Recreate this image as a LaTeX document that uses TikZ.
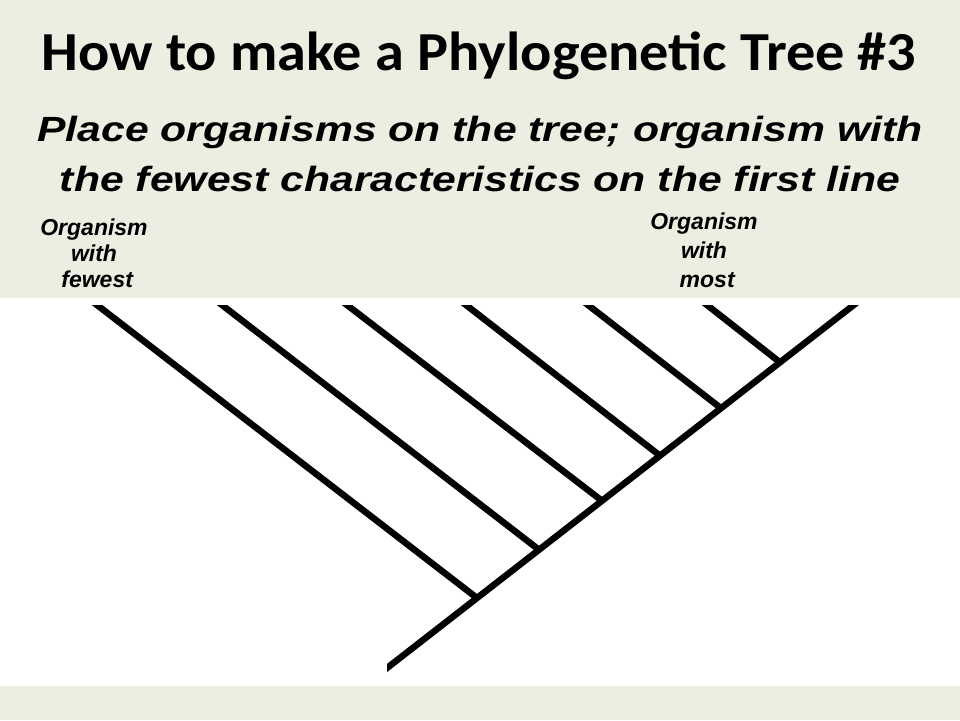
\documentclass[tikz,border=0pt]{standalone}
\usepackage{fontspec}
\usepackage{graphicx}
\usetikzlibrary{calc}
\newfontfamily\titlefont{Carlito}
\newfontfamily\armfont{Liberation Sans}
\definecolor{slidebg}{RGB}{235,238,224}

\begin{document}
\begin{tikzpicture}[x=1pt, y=-1pt,
    treeline/.style={line width=6.5pt, line cap=butt, black},
    subline/.style={font=\armfont\bfseries\itshape\fontsize{35}{40}\selectfont, inner sep=0pt, anchor=base},
    caption/.style={font=\armfont\bfseries\itshape\fontsize{23}{#1}\selectfont, inner sep=0pt, anchor=base, align=center}]
    \fill[slidebg] (0,0) rectangle (960,720);
    \fill[white] (0,298) rectangle (960,686);

    \node[font=\titlefont\bfseries\fontsize{55}{60}\selectfont, inner sep=0pt, anchor=base] (title) at (479,70) {\scalebox{1.06}[1]{How to make a Phylogenetic Tree \#3}};
    \node[subline] (sub1) at (480,141) {\scalebox{1.22}[1]{Place organisms on the tree; organism with}};
    \node[subline] (sub2) at (480,191) {\scalebox{1.22}[1]{the fewest characteristics on the first line}};

    % labels, anchored on their last line
    \node[caption=26] (fewest) at (94,287) {Organism\\with\\\ fewest};
    \node[caption=29] (most) at (704,287) {Organism\\with\\\ most};

    % trunk of the tree
    \coordinate (root) at (387,668);
    \coordinate (crown) at (855,304);
    \begin{scope}
      \clip (387,305) rectangle (960,686);
      \draw[treeline, shorten <=-10pt, shorten >=-10pt] (root) -- (crown);
    \end{scope}

    % branches, first line = fewest characteristics
    \foreach \tx/\jx [count=\i, evaluate=\jx as \t using (\jx-387)/468] in {97/477, 222/539, 347/602, 466/660, 588/721, 707/780} {
      \coordinate (tip\i) at (\tx,305);
      \coordinate (fork\i) at ($(root)!\t!(crown)$);
    }
    \begin{scope}
      \clip (0,305) rectangle (960,686);
      \foreach \i in {1,...,6}
        \draw[treeline, shorten >=-10pt] (fork\i) -- (tip\i);
    \end{scope}
\end{tikzpicture}
\end{document}
